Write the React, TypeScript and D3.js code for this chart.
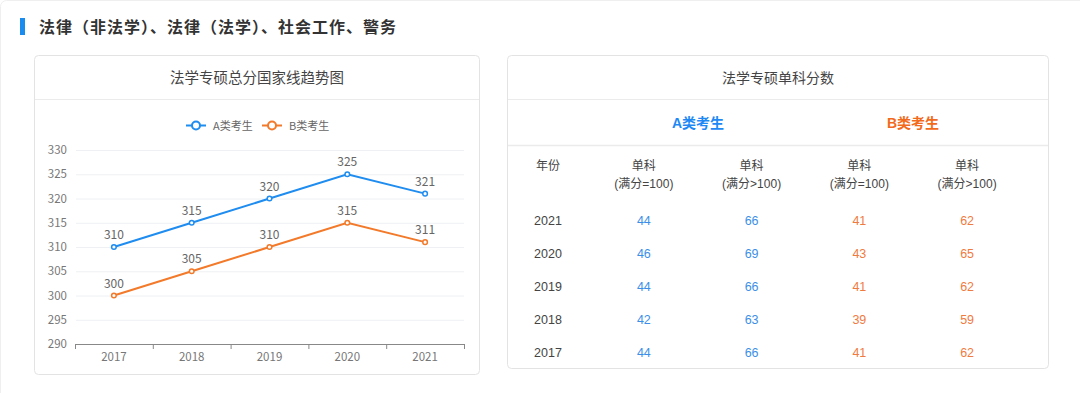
import React from "react";
import * as d3 from "d3";

// line chart data
const years = ["2017", "2018", "2019", "2020", "2021"];
const scoreA = [310, 315, 320, 325, 321];
const scoreB = [300, 305, 310, 315, 311];
const yTicks = [290, 295, 300, 305, 310, 315, 320, 325, 330];

// table data
const tableYears = ["2021", "2020", "2019", "2018", "2017"];
const singleA100 = [44, 46, 44, 42, 44];
const singleAOver = [66, 69, 66, 63, 66];
const singleB100 = [41, 43, 41, 39, 41];
const singleBOver = [62, 65, 62, 59, 62];
const colHeads = ["(满分=100)", "(满分>100)", "(满分=100)", "(满分>100)"];

const BLUE = "#1f8cf0";
const ORANGE = "#f27a2a";
const CJK = "'Noto Sans CJK SC', 'Microsoft YaHei', sans-serif";
const ARIAL = "'Liberation Sans', Arial, 'Noto Sans CJK SC', sans-serif";

export default function App() {
  // scales for the trend chart
  const x = d3.scaleBand().domain(years).range([75, 464]);
  const y = d3.scaleLinear().domain([290, 330]).range([344, 150]);
  const line = d3
    .line<number>()
    .x((_, i) => x(years[i])! + x.bandwidth() / 2)
    .y((d) => y(d));

  const series = [
    { name: "A类考生", values: scoreA, color: BLUE },
    { name: "B类考生", values: scoreB, color: ORANGE },
  ];

  // table layout
  const rowY = d3.scalePoint().domain(tableYears).range([220, 352]);
  const colX = d3.scaleBand().domain(["a1", "a2", "b1", "b2"]).range([590, 1021]);
  const cols = [
    { key: "a1", vals: singleA100, color: "#3c8fe8" },
    { key: "a2", vals: singleAOver, color: "#3c8fe8" },
    { key: "b1", vals: singleB100, color: "#f07b3f" },
    { key: "b2", vals: singleBOver, color: "#f07b3f" },
  ];
  const cx = (k: string) => colX(k)! + colX.bandwidth() / 2;

  return (
    <svg
      width={1080}
      height={393}
      style={{ position: "absolute", left: 0, top: 0, background: "#fff" }}
    >
      <rect x={0.5} y={0.5} width={1100} height={420} rx={6} fill="#fff" stroke="#efefef" />

      {/* section title */}
      <rect x={20} y={18} width={5} height={17} fill="#1a8cf0" />
      <text
        x={39}
        y={33}
        fontFamily={CJK}
        fontSize={16}
        fontWeight="bold"
        fill="#333"
        letterSpacing={1}
      >
        法律（非法学）、法律（法学）、社会工作、警务
      </text>

      {/* left card */}
      <rect x={34.5} y={55.5} width={445} height={319} rx={4} fill="#fff" stroke="#e3e3e3" />
      <line x1={35} x2={479} y1={99.5} y2={99.5} stroke="#ebebeb" />
      <text x={257} y={83} textAnchor="middle" fontFamily={CJK} fontSize={14.5} fill="#444">
        法学专硕总分国家线趋势图
      </text>

      {/* legend */}
      {series.map((s, i) => {
        const lx = 186 + i * 76;
        return (
          <g key={s.name}>
            <line x1={lx} x2={lx + 20} y1={125.5} y2={125.5} stroke={s.color} strokeWidth={2} />
            <circle cx={lx + 10} cy={125.5} r={4} fill="#fff" stroke={s.color} strokeWidth={2} />
            <text x={lx + 27} y={129.5} fontFamily={CJK} fontSize={11} fill="#666">
              {s.name}
            </text>
          </g>
        );
      })}

      {/* grid + y labels */}
      {yTicks.map((t) => (
        <g key={t}>
          {t !== 290 && (
            <line x1={76} x2={464} y1={y(t) + 0.5} y2={y(t) + 0.5} stroke="#eef0f3" />
          )}
          <text x={67} y={y(t) + 4} textAnchor="end" fontFamily={CJK} fontSize={11.5} fill="#777">
            {t}
          </text>
        </g>
      ))}

      {/* x axis */}
      <line x1={75} x2={464} y1={344.5} y2={344.5} stroke="#888" />
      {[...years.map((yr) => x(yr)!), 464].map((p, i) => (
        <line key={i} x1={p + 0.5} x2={p + 0.5} y1={344} y2={349} stroke="#888" />
      ))}
      {years.map((yr) => (
        <text
          key={yr}
          x={x(yr)! + x.bandwidth() / 2}
          y={361}
          textAnchor="middle"
          fontFamily={CJK}
          fontSize={11.5}
          fill="#777"
        >
          {yr}
        </text>
      ))}

      {/* lines */}
      {series.map((s) => (
        <g key={s.name}>
          <path d={line(s.values)!} fill="none" stroke={s.color} strokeWidth={2} />
          {s.values.map((v, i) => {
            const px = x(years[i])! + x.bandwidth() / 2;
            return (
              <g key={i}>
                <circle cx={px} cy={y(v)} r={2.3} fill="#fff" stroke={s.color} strokeWidth={1.5} />
                <text
                  x={px}
                  y={y(v) - 8}
                  textAnchor="middle"
                  fontFamily={CJK}
                  fontSize={12}
                  fill="#666"
                >
                  {v}
                </text>
              </g>
            );
          })}
        </g>
      ))}

      {/* right card */}
      <rect x={507.5} y={55.5} width={541} height={313} rx={4} fill="#fff" stroke="#e3e3e3" />
      <line x1={508} x2={1048} y1={99.5} y2={99.5} stroke="#ebebeb" />
      <line x1={508} x2={1048} y1={145.5} y2={145.5} stroke="#ebebeb" strokeWidth={1.5} />
      <text x={778} y={83} textAnchor="middle" fontFamily={CJK} fontSize={14} fill="#444">
        法学专硕单科分数
      </text>
      <text x={698} y={128} textAnchor="middle" fontFamily={ARIAL} fontSize={14} fontWeight="bold" fill="#1e88f5">
        A类考生
      </text>
      <text x={913} y={128} textAnchor="middle" fontFamily={ARIAL} fontSize={14} fontWeight="bold" fill="#f26a1b">
        B类考生
      </text>

      {/* column headings */}
      <text x={548} y={170} textAnchor="middle" fontFamily={ARIAL} fontSize={12} fill="#444">
        年份
      </text>
      {cols.map((c, i) => (
        <g key={c.key}>
          <text x={cx(c.key)} y={170} textAnchor="middle" fontFamily={ARIAL} fontSize={12} fill="#444">
            单科
          </text>
          <text x={cx(c.key)} y={188} textAnchor="middle" fontFamily={ARIAL} fontSize={12} fill="#444">
            {colHeads[i]}
          </text>
        </g>
      ))}

      {/* rows */}
      {tableYears.map((yr, r) => (
        <g key={yr}>
          <text x={548} y={rowY(yr)! + 4.5} textAnchor="middle" fontFamily={ARIAL} fontSize={12.5} fill="#444">
            {yr}
          </text>
          {cols.map((c) => (
            <text
              key={c.key}
              x={cx(c.key)}
              y={rowY(yr)! + 4.5}
              textAnchor="middle"
              fontFamily={ARIAL}
              fontSize={12.5}
              fill={c.color}
            >
              {c.vals[r]}
            </text>
          ))}
        </g>
      ))}
    </svg>
  );
}
